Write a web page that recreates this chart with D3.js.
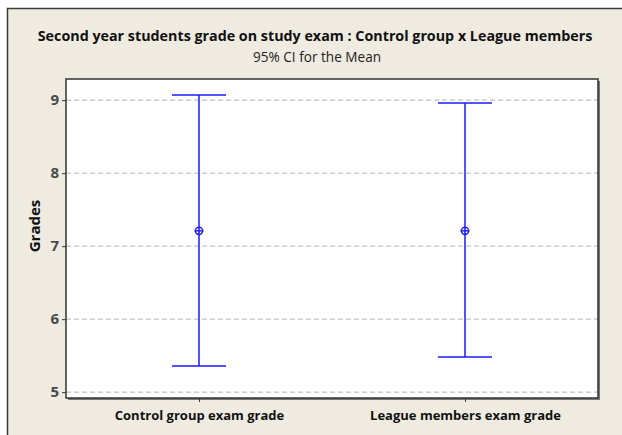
<!DOCTYPE html>
<html>
<head>
<meta charset="utf-8">
<script src="https://cdn.jsdelivr.net/npm/d3@7"></script>
<style>
  body { margin: 0; background: #fff; }
  svg { display: block; }
</style>
</head>
<body>
<svg width="622" height="435"></svg>
<script>
// values
var groups = ["Control group exam grade", "League members exam grade"];
var means = [7.21, 7.21];
var lower = [5.36, 5.48];
var upper = [9.07, 8.96];
var yTicks = [5, 6, 7, 8, 9];

var svg = d3.select("svg"),
    width = 622,
    height = 435;

var plot = { left: 66, top: 79, right: 598, bottom: 398 };
var font = "Open Sans, sans-serif";

// outer frame
svg.append("rect")
    .attr("x", 7.5).attr("y", 8.5)
    .attr("width", width).attr("height", height)
    .attr("fill", "#efebe1")
    .attr("stroke", "#3a3a3a")
    .attr("stroke-width", 1.5);

// titles
svg.append("text")
    .attr("x", 315).attr("y", 41)
    .attr("text-anchor", "middle")
    .attr("font-family", font)
    .attr("font-weight", "bold")
    .attr("font-size", 14.3)
    .attr("fill", "#111")
    .text("Second year students grade on study exam : Control group x League members");

svg.append("text")
    .attr("x", 317).attr("y", 61.5)
    .attr("text-anchor", "middle")
    .attr("font-family", font)
    .attr("font-size", 13.6)
    .attr("fill", "#222")
    .text("95% CI for the Mean");

var x = d3.scalePoint()
    .domain(groups)
    .range([plot.left, plot.right])
    .padding(0.5);

var y = d3.scaleLinear()
    .domain([4.92, 9.29])
    .range([plot.bottom, plot.top]);

// plot shadow + background
svg.append("rect")
    .attr("x", plot.left + 2).attr("y", plot.top + 2)
    .attr("width", plot.right - plot.left)
    .attr("height", plot.bottom - plot.top)
    .attr("fill", "#777");
svg.append("rect")
    .attr("x", plot.left).attr("y", plot.top)
    .attr("width", plot.right - plot.left)
    .attr("height", plot.bottom - plot.top)
    .attr("fill", "#fff");

// gridlines
svg.append("g")
    .selectAll("line")
    .data(yTicks)
    .join("line")
    .attr("x1", plot.left).attr("x2", plot.right)
    .attr("y1", d => y(d)).attr("y2", d => y(d))
    .attr("stroke", "#c4c4c4")
    .attr("stroke-width", 1.3)
    .attr("stroke-dasharray", "5,3");

// intervals
var g = svg.append("g").attr("stroke", "#1a1aff").attr("stroke-width", 1.5).attr("fill", "none");
var cap = 27;

g.selectAll(".stem")
    .data(groups)
    .join("line")
    .attr("x1", d => x(d)).attr("x2", d => x(d))
    .attr("y1", (d, i) => y(upper[i])).attr("y2", (d, i) => y(lower[i]));

g.selectAll(".top")
    .data(groups)
    .join("line")
    .attr("x1", d => x(d) - cap).attr("x2", d => x(d) + cap)
    .attr("y1", (d, i) => y(upper[i])).attr("y2", (d, i) => y(upper[i]));

g.selectAll(".bot")
    .data(groups)
    .join("line")
    .attr("x1", d => x(d) - cap).attr("x2", d => x(d) + cap)
    .attr("y1", (d, i) => y(lower[i])).attr("y2", (d, i) => y(lower[i]));

// mean symbols: circle with cross
var m = svg.append("g").selectAll("g")
    .data(groups)
    .join("g")
    .attr("transform", (d, i) => "translate(" + x(d) + "," + y(means[i]) + ")")
    .attr("stroke", "#1a1aff")
    .attr("fill", "none")
    .attr("stroke-width", 1.4);
m.append("circle").attr("r", 3.6);
m.append("line").attr("x1", -4.5).attr("x2", 4.5);

// plot border
svg.append("rect")
    .attr("x", plot.left).attr("y", plot.top)
    .attr("width", plot.right - plot.left)
    .attr("height", plot.bottom - plot.top)
    .attr("fill", "none")
    .attr("stroke", "#333")
    .attr("stroke-width", 1.5);

// axes
var yAxis = svg.append("g")
    .attr("transform", "translate(" + plot.left + ",0)")
    .call(d3.axisLeft(y).tickValues(yTicks).tickSize(4).tickPadding(3).tickFormat(d3.format("d")));
yAxis.select(".domain").remove();
yAxis.selectAll("line").attr("stroke", "#333");
yAxis.selectAll("text")
    .attr("font-family", font)
    .attr("font-weight", "bold")
    .attr("font-size", 15)
    .attr("fill", "#4a4a4a");

var xAxis = svg.append("g")
    .attr("transform", "translate(0," + plot.bottom + ")")
    .call(d3.axisBottom(x).tickSize(4).tickPadding(9));
xAxis.select(".domain").remove();
xAxis.selectAll("line").attr("stroke", "#333");
xAxis.selectAll("text")
    .attr("font-family", font)
    .attr("font-weight", "bold")
    .attr("font-size", 13)
    .attr("fill", "#111");

svg.append("text")
    .attr("transform", "translate(40,226) rotate(-90)")
    .attr("text-anchor", "middle")
    .attr("font-family", font)
    .attr("font-weight", "bold")
    .attr("font-size", 15)
    .attr("fill", "#111")
    .text("Grades");
</script>
</body>
</html>
